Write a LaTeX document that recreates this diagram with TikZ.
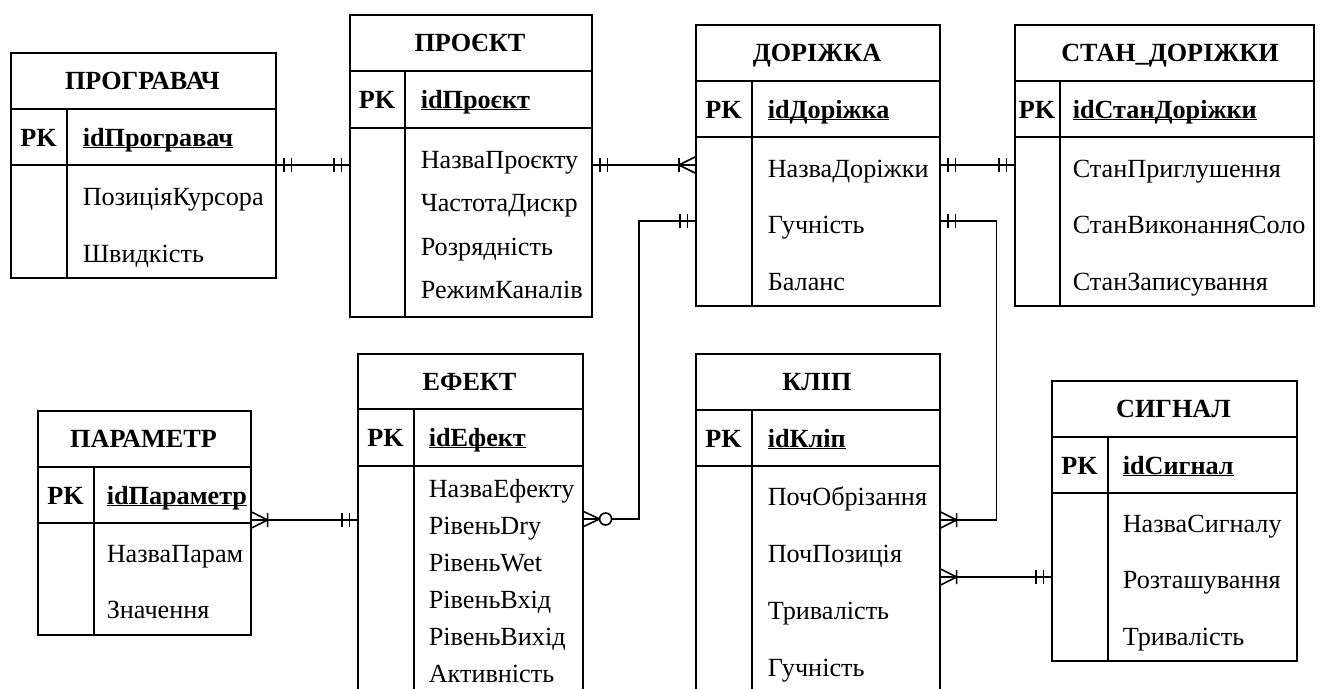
\documentclass[tikz,border=0pt]{standalone}
\usepackage{fontspec}
\setmainfont{Liberation Serif}
\usetikzlibrary{arrows.meta}

\newcommand{\erkey}[1]{\underline{\raisebox{0pt}[\height][0pt]{#1}}}

\pgfdeclarearrow{
  name = erone,
  setup code = {
    \pgfarrowssettipend{0pt}
    \pgfarrowssetlineend{0pt}
    \pgfarrowssetbackend{-16pt}
    \pgfarrowshullpoint{0pt}{8pt}
    \pgfarrowshullpoint{-16pt}{-8pt}
  },
  drawing code = {
    \pgfpathmoveto{\pgfqpoint{-7.5pt}{-7pt}}
    \pgfpathlineto{\pgfqpoint{-7.5pt}{7pt}}
    \pgfpathmoveto{\pgfqpoint{-15pt}{-7pt}}
    \pgfpathlineto{\pgfqpoint{-15pt}{7pt}}
    \pgfusepathqstroke
  }
}
\pgfdeclarearrow{
  name = ermany,
  setup code = {
    \pgfarrowssettipend{0pt}
    \pgfarrowssetlineend{0pt}
    \pgfarrowssetbackend{-17pt}
    \pgfarrowshullpoint{0pt}{8pt}
    \pgfarrowshullpoint{-17pt}{-8pt}
  },
  drawing code = {
    \pgfpathmoveto{\pgfqpoint{0pt}{8pt}}
    \pgfpathlineto{\pgfqpoint{-16pt}{0pt}}
    \pgfpathmoveto{\pgfqpoint{0pt}{-8pt}}
    \pgfpathlineto{\pgfqpoint{-16pt}{0pt}}
    \pgfpathmoveto{\pgfqpoint{-16pt}{-7pt}}
    \pgfpathlineto{\pgfqpoint{-16pt}{7pt}}
    \pgfusepathqstroke
  }
}
\pgfdeclarearrow{
  name = erzeromany,
  setup code = {
    \pgfarrowssettipend{0pt}
    \pgfarrowssetlineend{-28pt}
    \pgfarrowssetbackend{-28pt}
    \pgfarrowshullpoint{0pt}{8pt}
    \pgfarrowshullpoint{-28pt}{-8pt}
  },
  drawing code = {
    \pgfpathmoveto{\pgfqpoint{0pt}{7.5pt}}
    \pgfpathlineto{\pgfqpoint{-16pt}{0pt}}
    \pgfpathmoveto{\pgfqpoint{0pt}{-7.5pt}}
    \pgfpathlineto{\pgfqpoint{-16pt}{0pt}}
    \pgfpathmoveto{\pgfqpoint{0pt}{0pt}}
    \pgfpathlineto{\pgfqpoint{-16pt}{0pt}}
    \pgfpathcircle{\pgfqpoint{-22pt}{0pt}}{6pt}
    \pgfusepathqstroke
  }
}

\begin{document}
\begin{tikzpicture}[x=1pt,y=-1pt,line width=1.6pt,
  every node/.style={inner sep=0pt,font=\fontsize{26.2}{31}\selectfont},
  tbl/.style={draw,anchor=north west,line width=1.6pt},
  title/.style={anchor=base,font=\fontsize{26.2}{31}\selectfont\bfseries},
  pk/.style={anchor=base,font=\fontsize{26.2}{31}\selectfont\bfseries},
  key/.style={anchor=base west,font=\fontsize{26.2}{31}\selectfont\bfseries},
  attr/.style={anchor=base west}]
\clip (0,0) rectangle (1325,688);
\fill[white] (0,0) rectangle (1325,688);

% ПРОГРАВАЧ
\node[tbl,minimum width=265pt,minimum height=225pt] (prog) at (10,52) {};
\draw (prog.west |- 0,109) -- (prog.east |- 0,109);
\draw (prog.west |- 0,165) -- (prog.east |- 0,165);
\draw (67,109) -- (67,277);
\node[title] (prog-t) at (142.5,89) {ПРОГРАВАЧ};
\node[pk] (prog-pk) at (38.5,146) {PK};
\node[key] (prog-id) at (82,146) {\erkey{idПрогравач}};
\foreach \t [count=\i] in {ПозиціяКурсора,Швидкість}
  \node[attr] (prog-a\i) at (82,{205+57*(\i-1)}) {\t};

% ПРОЄКТ
\node[tbl,minimum width=242pt,minimum height=302pt] (proj) at (349,14) {};
\draw (proj.west |- 0,71) -- (proj.east |- 0,71);
\draw (proj.west |- 0,128) -- (proj.east |- 0,128);
\draw (405,71) -- (405,316);
\node[title] (proj-t) at (470,51) {ПРОЄКТ};
\node[pk] (proj-pk) at (377,108) {PK};
\node[key] (proj-id) at (420,108) {\erkey{idПроєкт}};
\foreach \t [count=\i] in {НазваПроєкту,ЧастотаДискр,Розрядність,РежимКаналів}
  \node[attr] (proj-a\i) at (420,{168+43.5*(\i-1)}) {\t};

% ДОРІЖКА
\node[tbl,minimum width=244pt,minimum height=281pt] (dor) at (695,24) {};
\draw (dor.west |- 0,81) -- (dor.east |- 0,81);
\draw (dor.west |- 0,137) -- (dor.east |- 0,137);
\draw (752,81) -- (752,305);
\node[title] (dor-t) at (817,61) {ДОРІЖКА};
\node[pk] (dor-pk) at (723.5,118) {PK};
\node[key] (dor-id) at (767,118) {\erkey{idДоріжка}};
\foreach \t [count=\i] in {НазваДоріжки,Гучність,Баланс}
  \node[attr] (dor-a\i) at (767,{177+56.5*(\i-1)}) {\t};

% СТАН_ДОРІЖКИ
\node[tbl,minimum width=299pt,minimum height=281pt] (stan) at (1014,24) {};
\draw (stan.west |- 0,81) -- (stan.east |- 0,81);
\draw (stan.west |- 0,137) -- (stan.east |- 0,137);
\draw (1060,81) -- (1060,305);
\node[title] (stan-t) at (1170,61) {СТАН\_ДОРІЖКИ};
\node[pk] (stan-pk) at (1037,118) {PK};
\node[key] (stan-id) at (1072,118) {\erkey{idСтанДоріжки}};
\foreach \t [count=\i] in {СтанПриглушення,СтанВиконанняСоло,СтанЗаписування}
  \node[attr] (stan-a\i) at (1072,{177+56.5*(\i-1)}) {\t};

% ЕФЕКТ
\node[tbl,minimum width=225pt,minimum height=367pt] (eff) at (357,353) {};
\draw (eff.west |- 0,409) -- (eff.east |- 0,409);
\draw (eff.west |- 0,466) -- (eff.east |- 0,466);
\draw (414,409) -- (414,720);
\node[title] (eff-t) at (469.5,390) {ЕФЕКТ};
\node[pk] (eff-pk) at (385.5,446) {PK};
\node[key] (eff-id) at (428,446) {\erkey{idЕфект}};
\foreach \t [count=\i] in {НазваЕфекту,РівеньDry,РівеньWet,РівеньВхід,РівеньВихід,Активність}
  \node[attr] (eff-a\i) at (428,{497+37*(\i-1)}) {\t};

% ПАРАМЕТР
\node[tbl,minimum width=213pt,minimum height=224pt] (par) at (37,410) {};
\draw (par.west |- 0,467) -- (par.east |- 0,467);
\draw (par.west |- 0,523) -- (par.east |- 0,523);
\draw (94,467) -- (94,634);
\node[title] (par-t) at (143.5,447) {ПАРАМЕТР};
\node[pk] (par-pk) at (65.5,504) {PK};
\node[key] (par-id) at (106,504) {\erkey{idПараметр}};
\foreach \t [count=\i] in {НазваПарам,Значення}
  \node[attr] (par-a\i) at (106,{562+56*(\i-1)}) {\t};

% КЛІП
\node[tbl,minimum width=244pt,minimum height=367pt] (clip) at (695,353) {};
\draw (clip.west |- 0,410) -- (clip.east |- 0,410);
\draw (clip.west |- 0,466) -- (clip.east |- 0,466);
\draw (752,410) -- (752,720);
\node[title] (clip-t) at (817,390) {КЛІП};
\node[pk] (clip-pk) at (723.5,447) {PK};
\node[key] (clip-id) at (767,447) {\erkey{idКліп}};
\foreach \t [count=\i] in {ПочОбрізання,ПочПозиція,Тривалість,Гучність}
  \node[attr] (clip-a\i) at (767,{505+57*(\i-1)}) {\t};

% СИГНАЛ
\node[tbl,minimum width=245pt,minimum height=280pt] (sig) at (1051,380) {};
\draw (sig.west |- 0,437) -- (sig.east |- 0,437);
\draw (sig.west |- 0,493) -- (sig.east |- 0,493);
\draw (1108,437) -- (1108,660);
\node[title] (sig-t) at (1173.5,417) {СИГНАЛ};
\node[pk] (sig-pk) at (1079.5,474) {PK};
\node[key] (sig-id) at (1122,474) {\erkey{idСигнал}};
\foreach \t [count=\i] in {НазваСигналу,Розташування,Тривалість}
  \node[attr] (sig-a\i) at (1122,{532+56.5*(\i-1)}) {\t};

% зв'язки
\draw[erone-erone] (prog.east |- 0,165) -- (proj.west |- 0,165);
\draw[erone-ermany] (proj.east |- 0,165) -- (dor.west |- 0,165);
\draw[erone-erone] (dor.east |- 0,165) -- (stan.west |- 0,165);
\draw[erone-erzeromany] (dor.west |- 0,221) -- ++(-56,0) |- (eff.east |- 0,519);
\draw[erone-ermany] (dor.east |- 0,221) -- ++(56,0) |- (clip.east |- 0,520);
\draw[ermany-erone] (clip.east |- 0,577) -- (sig.west |- 0,577);
\draw[ermany-erone] (par.east |- 0,520) -- (eff.west |- 0,520);
\end{tikzpicture}
\end{document}
